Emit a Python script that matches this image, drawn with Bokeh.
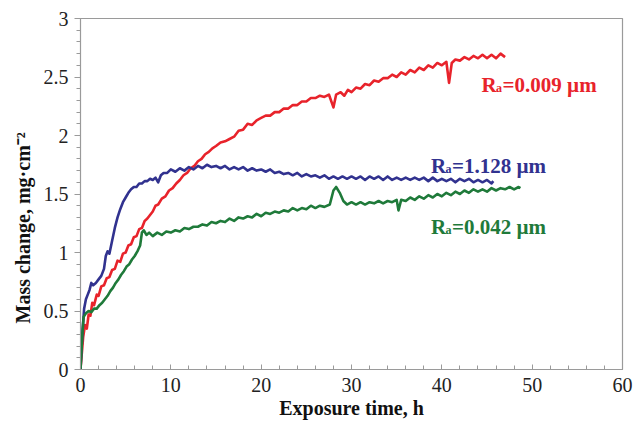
from bokeh.plotting import figure
from bokeh.models import Range1d, Title, SingleIntervalTicker
from bokeh.core.properties import value
from bokeh.embed import file_html
from bokeh.resources import INLINE

# ---- data ----
red_x = [0, 0.3, 0.5, 0.7, 0.9, 1.1, 1.3, 1.5, 1.8, 2.0, 2.3, 2.6, 2.9, 3.2, 3.5, 3.8, 4.1, 4.4, 4.7, 5.0,
         5.3, 5.6, 5.9, 6.2, 6.5, 6.8, 7.1, 7.4, 7.7, 8.0, 8.3, 8.6, 9.0, 9.4, 9.8, 10.2, 10.6, 11.0, 11.4, 11.8,
         12.2, 12.6, 13.0, 13.4, 13.8, 14.2, 14.6, 15.0, 15.5, 16.0, 16.5, 17.0, 17.5, 18.0, 18.5, 19.0, 19.5,
         20.0, 20.5, 21.0, 21.5, 22.0, 22.5, 23.0, 23.5, 24.0, 24.5, 25.0, 25.5, 26.0, 26.5, 27.0, 27.5, 28.0,
         28.3, 28.8, 29.2, 29.6, 30.0, 30.5, 31.0, 31.5, 32.0, 32.5, 33.0, 33.5, 34.0, 34.5, 35.0, 35.5, 36.0,
         36.5, 37.0, 37.5, 38.0, 38.5, 39.0, 39.5, 40.0, 40.5, 40.8, 41.1, 41.5, 42.0, 42.5, 43.0, 43.5, 44.0,
         44.5, 45.0, 45.5, 46.0, 46.5, 47.0]
red_y = [0, 0.28, 0.38, 0.35, 0.47, 0.46, 0.57, 0.55, 0.64, 0.63, 0.71, 0.72, 0.78, 0.79, 0.85, 0.86, 0.93, 0.92, 0.99, 1.00,
         1.06, 1.07, 1.13, 1.14, 1.20, 1.21, 1.27, 1.29, 1.32, 1.35, 1.40, 1.41, 1.46, 1.48, 1.53, 1.55, 1.59, 1.62, 1.66, 1.68,
         1.72, 1.74, 1.78, 1.80, 1.84, 1.86, 1.89, 1.91, 1.94, 1.95, 1.97, 1.99, 2.04, 2.05, 2.10, 2.09, 2.13,
         2.15, 2.17, 2.17, 2.20, 2.20, 2.23, 2.23, 2.26, 2.26, 2.29, 2.29, 2.32, 2.32, 2.34, 2.33, 2.35, 2.24,
         2.35, 2.37, 2.34, 2.39, 2.37, 2.41, 2.40, 2.44, 2.43, 2.47, 2.46, 2.49, 2.49, 2.52, 2.50, 2.54, 2.52,
         2.56, 2.54, 2.58, 2.56, 2.60, 2.58, 2.62, 2.60, 2.63, 2.45, 2.62, 2.65, 2.64, 2.67, 2.65, 2.68, 2.66,
         2.69, 2.66, 2.69, 2.66, 2.70, 2.67]

blue_x = [0, 0.2, 0.4, 0.6, 0.8, 1.0, 1.2, 1.4, 1.7, 2.0, 2.3, 2.6, 2.8, 3.0, 3.2, 3.5, 3.8, 4.1, 4.4, 4.7,
          5.0, 5.3, 5.6, 5.9, 6.2, 6.5, 6.8, 7.1, 7.4, 7.7, 8.0, 8.3, 8.6, 8.9, 9.2, 9.6, 10.0, 10.5, 11.0, 11.5,
          12.0, 12.5, 13.0, 13.5, 14.0, 14.5, 15.0, 15.5, 16.0, 16.5, 17.0, 17.5, 18.0, 18.5, 19.0, 19.5, 20.0,
          20.5, 21.0, 21.5, 22.0, 22.5, 23.0, 23.5, 24.0, 24.5, 25.0, 25.5, 26.0, 26.5, 27.0, 27.5, 28.0, 28.5,
          29.0, 29.5, 30.0, 30.5, 31.0, 31.5, 32.0, 32.5, 33.0, 33.5, 34.0, 34.5, 35.0, 35.5, 36.0, 36.5, 37.0,
          37.5, 38.0, 38.5, 39.0, 39.5, 40.0, 40.5, 41.0, 41.5, 42.0, 42.5, 43.0, 43.5, 44.0, 44.5, 45.0, 45.5, 45.7]
blue_y = [0, 0.30, 0.52, 0.60, 0.64, 0.68, 0.74, 0.72, 0.74, 0.77, 0.80, 0.86, 0.97, 1.01, 0.99, 1.10, 1.21, 1.30, 1.37, 1.43,
          1.47, 1.51, 1.54, 1.56, 1.56, 1.59, 1.59, 1.61, 1.61, 1.63, 1.62, 1.64, 1.60, 1.66, 1.68, 1.68, 1.71, 1.69, 1.72, 1.70,
          1.73, 1.71, 1.74, 1.72, 1.75, 1.73, 1.74, 1.72, 1.74, 1.71, 1.73, 1.71, 1.73, 1.70, 1.72, 1.70, 1.71,
          1.69, 1.71, 1.68, 1.69, 1.67, 1.68, 1.66, 1.68, 1.65, 1.67, 1.65, 1.66, 1.64, 1.66, 1.63, 1.65, 1.63,
          1.65, 1.63, 1.65, 1.63, 1.65, 1.62, 1.65, 1.63, 1.65, 1.62, 1.65, 1.62, 1.64, 1.62, 1.64, 1.62, 1.64,
          1.62, 1.64, 1.61, 1.64, 1.61, 1.63, 1.61, 1.63, 1.60, 1.63, 1.61, 1.63, 1.60, 1.62, 1.60, 1.62, 1.59, 1.61]

green_x = [0, 0.2, 0.35, 0.6, 0.9, 1.2, 1.5, 1.8, 2.1, 2.4, 2.7, 3.0, 3.3, 3.6, 3.9, 4.2, 4.5, 4.8, 5.1, 5.4,
           5.7, 6.0, 6.3, 6.6, 6.8, 7.0, 7.3, 7.6, 8.0, 8.5, 9.0, 9.5, 10.0, 10.5, 11.0, 11.5, 12.0, 12.5, 13.0,
           13.5, 14.0, 14.5, 15.0, 15.5, 16.0, 16.5, 17.0, 17.5, 18.0, 18.5, 19.0, 19.5, 20.0, 20.5, 21.0, 21.5,
           22.0, 22.5, 23.0, 23.5, 24.0, 24.5, 25.0, 25.5, 26.0, 26.5, 27.0, 27.6, 28.0, 28.3, 28.7, 29.1, 29.5,
           30.0, 30.5, 31.0, 31.5, 32.0, 32.5, 33.0, 33.5, 34.0, 34.5, 35.0, 35.2, 35.5, 36.0, 36.5, 37.0, 37.5,
           38.0, 38.5, 39.0, 39.5, 40.0, 40.5, 41.0, 41.5, 42.0, 42.5, 43.0, 43.5, 44.0, 44.5, 45.0, 45.5, 46.0,
           46.5, 47.0, 47.5, 48.0, 48.5, 48.7]
green_y = [0, 0.30, 0.45, 0.48, 0.50, 0.49, 0.52, 0.52, 0.55, 0.57, 0.60, 0.63, 0.67, 0.70, 0.74, 0.77, 0.81, 0.84, 0.88, 0.90,
           0.94, 0.97, 1.01, 1.06, 1.17, 1.19, 1.15, 1.17, 1.14, 1.17, 1.15, 1.18, 1.17, 1.19, 1.18, 1.21, 1.20, 1.22, 1.22,
           1.24, 1.23, 1.26, 1.25, 1.27, 1.26, 1.29, 1.27, 1.30, 1.29, 1.31, 1.30, 1.33, 1.31, 1.34, 1.33, 1.35,
           1.34, 1.36, 1.35, 1.38, 1.36, 1.38, 1.37, 1.40, 1.38, 1.40, 1.39, 1.41, 1.53, 1.56, 1.51, 1.44, 1.41,
           1.43, 1.41, 1.43, 1.41, 1.43, 1.42, 1.44, 1.42, 1.44, 1.43, 1.45, 1.36, 1.45, 1.44, 1.47, 1.45, 1.48,
           1.46, 1.49, 1.47, 1.50, 1.48, 1.51, 1.49, 1.52, 1.50, 1.53, 1.51, 1.54, 1.52, 1.54, 1.52, 1.55, 1.53,
           1.55, 1.54, 1.56, 1.54, 1.56, 1.55]

label_x = [44.4, 38.8, 38.8]
label_y = [2.43, 1.74, 1.22]
label_rest = ["=0.009 \u00b5m", "=1.128 \u00b5m", "=0.042 \u00b5m"]

RED = "#e8232b"
BLUE = "#31328f"
GREEN = "#1f7a3a"
colors = [RED, BLUE, GREEN]

SERIF = "Liberation Serif"

p = figure(width=635, height=424, output_backend="svg", toolbar_location=None,
           x_range=Range1d(0, 60), y_range=Range1d(0, 3),
           min_border_left=80, min_border_right=13, min_border_top=18, min_border_bottom=55)
p.xgrid.visible = False
p.ygrid.visible = False
p.outline_line_color = "#9a9a9a"
p.outline_line_width = 1.2
p.background_fill_color = "white"
p.border_fill_color = "white"

p.line(red_x, red_y, line_color=RED, line_width=2.6, line_join="round")
p.line(blue_x, blue_y, line_color=BLUE, line_width=2.6, line_join="round")
p.line(green_x, green_y, line_color=GREEN, line_width=2.6, line_join="round")

# series labels with subscript
for lx, ly, rest, c in zip(label_x, label_y, label_rest, colors):
    p.text(x=[lx], y=[ly], text=["R"], text_color=c, text_font=value(SERIF),
           text_font_style="bold", text_font_size="21px", text_baseline="alphabetic", text_align="left")
    p.text(x=[lx], y=[ly], text=["a"], text_color=c, text_font=value(SERIF), x_offset=14.5, y_offset=3,
           text_font_style="bold", text_font_size="12px", text_baseline="alphabetic", text_align="left")
    p.text(x=[lx], y=[ly], text=[rest], text_color=c, text_font=value(SERIF), x_offset=21,
           text_font_style="bold", text_font_size="21px", text_baseline="alphabetic", text_align="left")

# axes
xa = p.xaxis[0]
xa.ticker = SingleIntervalTicker(interval=10, num_minor_ticks=5)
xa.axis_label = "Exposure time, h"
xa.axis_label_text_font = SERIF
xa.axis_label_text_font_style = "bold"
xa.axis_label_text_font_size = "20px"
xa.axis_label_text_color = "#111111"
xa.axis_label_standoff = 2
xa.major_label_text_font = SERIF
xa.major_label_text_font_size = "20px"
xa.major_label_text_color = "#222222"
xa.major_label_standoff = 8
xa.major_tick_in = 5
xa.major_tick_out = 0
xa.minor_tick_in = 4
xa.minor_tick_out = 0
xa.axis_line_color = "#9a9a9a"
xa.major_tick_line_color = "#9a9a9a"
xa.minor_tick_line_color = "#9a9a9a"

ya = p.yaxis[0]
ya.ticker = SingleIntervalTicker(interval=0.5, num_minor_ticks=5)
ya.major_label_text_font = SERIF
ya.major_label_text_font_size = "20px"
ya.major_label_text_color = "#222222"
ya.major_label_standoff = 6
ya.major_tick_in = 0
ya.major_tick_out = 6
ya.minor_tick_in = 0
ya.minor_tick_out = 4
ya.axis_line_color = "#9a9a9a"
ya.major_tick_line_color = "#9a9a9a"
ya.minor_tick_line_color = "#9a9a9a"

ytitle = Title(text="Mass change, mg\u00b7cm\u207b\u00b2", align="left", offset=46,
               text_font=SERIF, text_font_style="bold", text_font_size="20px",
               text_color="#111111", standoff=13)
p.add_layout(ytitle, "left")

open("out.html", "w").write(file_html(p, INLINE))
